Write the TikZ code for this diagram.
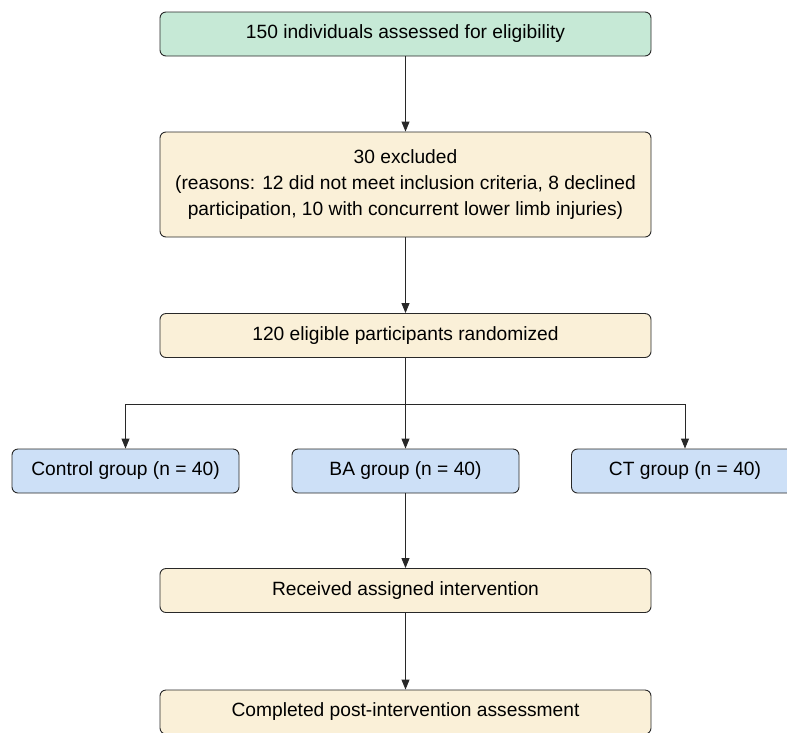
\documentclass[tikz,border=0pt]{standalone}
\usepackage{fontspec}
\setmainfont{Liberation Sans}
\usetikzlibrary{arrows.meta}
\definecolor{boxgreen}{RGB}{198,233,214}
\definecolor{boxcream}{RGB}{250,240,216}
\definecolor{boxblue}{RGB}{205,224,247}
\definecolor{edgegray}{RGB}{40,40,40}
\tikzset{
  flowbox/.style={draw=edgegray, line width=0.9pt, rounded corners=6pt, align=center,
    inner sep=0pt, minimum height=44pt, font=\fontsize{19.2}{26}\selectfont},
  widebox/.style={flowbox, minimum width=491pt},
  groupbox/.style={flowbox, fill=boxblue, minimum width=227pt},
  link/.style={draw=edgegray, line width=0.9pt}
}

\begin{document}
\begin{tikzpicture}[x=1pt, y=-1pt, >={Triangle[length=10pt,width=8pt]}]
  \useasboundingbox (0,0) rectangle (787,732);
  \clip (0,0) rectangle (787,732);

  \node[widebox, fill=boxgreen] (assessed) at (405.5,34) {150 individuals assessed for eligibility};
  \node[widebox, fill=boxcream, minimum height=105pt] (excluded) at (405.5,184.5)
    {30 excluded\\(reasons: 12 did not meet inclusion criteria, 8 declined\\participation, 10 with concurrent lower limb injuries)};
  \node[widebox, fill=boxcream] (randomized) at (405.5,335.5) {120 eligible participants randomized};

  \node[groupbox] (control) at (125.5,471) {Control group (n = 40)};
  \node[groupbox] (ba) at (405.5,471) {BA group (n = 40)};
  \node[groupbox] (ct) at (685,471) {CT group (n = 40)};

  \node[widebox, fill=boxcream] (received) at (405.5,590.5) {Received assigned intervention};
  \node[widebox, fill=boxcream] (completed) at (405.5,712) {Completed post-intervention assessment};

  \coordinate (split) at (405.5,404);

  \draw[link, ->] (assessed) -- (excluded);
  \draw[link, ->] (excluded) -- (randomized);
  \draw[link] (randomized) -- (split);
  \draw[link, ->] (split) -| (control);
  \draw[link, ->] (split) -- (ba);
  \draw[link, ->] (split) -| (ct);
  \draw[link, ->] (ba) -- (received);
  \draw[link, ->] (received) -- (completed);
\end{tikzpicture}
\end{document}
